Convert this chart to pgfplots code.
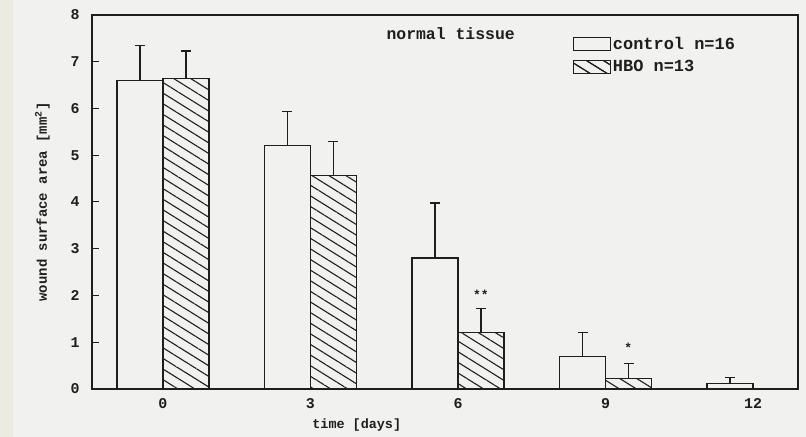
\documentclass[border=0pt]{standalone}
\usepackage{pgfplots}
\pgfplotsset{compat=1.18}
\usetikzlibrary{patterns.meta}
\usepackage{fontspec}
\setmainfont{Liberation Mono}
\definecolor{bg}{HTML}{F1F1F0}
\definecolor{strip}{HTML}{ECEBE2}
\definecolor{ink}{HTML}{1E1E1E}
\pgfplotstableread{
x    c     ce    h     he
0    6.60  0.75  6.65  0.58
1    5.20  0.74  4.57  0.72
2    2.80  1.18  1.20  0.53
3    0.70  0.50  0.22  0.33
4    0.12  0.13  nan   nan
}\data
\begin{document}
\begin{tikzpicture}[x=1bp,y=1bp]
\fill[bg] (0,0) rectangle (806,437);
\fill[strip] (0,0) rectangle (13,437);
\begin{axis}[
  at={(92bp,48bp)}, anchor=south west,
  scale only axis, width=706bp, height=374bp,
  ybar, bar width=46bp,
  xmin=-0.481, xmax=4.305, ymin=0, ymax=8,
  ytick={0,...,8}, xtick={0,1,2,3,4}, xticklabels={0,3,6,9,12},
  tick align=inside, ytick pos=left, xtick pos=bottom,
  major tick length=7bp,
  x tick style={draw=none},
  y tick style={line width=1pt, ink},
  axis line style={line width=1.3pt, ink},
  tick label style={font=\fontsize{15}{15}\selectfont\bfseries, ink},
  /pgf/number format/assume math mode=true,
  xticklabel style={yshift=-6bp},
  yticklabel style={xshift=-9bp},
  xlabel={time [days]},
  xlabel style={font=\fontsize{13.5}{13.5}\selectfont\bfseries, ink, at={(axis description cs:0.375,0)}, anchor=north, yshift=-26bp},
  ylabel={wound surface area [mm$^{\mathbf{2}}$]},
  ylabel style={font=\fontsize{14}{14}\selectfont\bfseries, ink, yshift=14bp},
  legend style={draw=none, fill=none, at={(rel axis cs:0.681,0.946)}, anchor=north west,
    font=\fontsize{17}{17}\selectfont\bfseries, text=ink, row sep=5bp, inner sep=0pt,
    legend cell align=left},
  error bars/y dir=plus, error bars/y explicit,
  error bars/error mark options={rotate=90, mark size=5bp, line width=1.2pt, ink},
  error bars/error bar style={line width=1.2pt, ink},
]
\addplot[draw=ink, line width=1.2pt, fill=bg, bar shift=-23bp,
  legend image code/.code={\draw[draw=ink, line width=1pt, fill=bg] (0bp,-6.5bp) rectangle (37bp,6.5bp);}]
  table[x=x, y=c, y error=ce] {\data};
\addlegendentry{control n=16}
\addplot[draw=ink, line width=1.2pt, fill=bg, bar shift=23bp,
  postaction={pattern={Lines[angle=-32, distance=9bp, line width=1.1pt]}, pattern color=ink},
  legend image code/.code={\draw[draw=ink, line width=1pt, fill=bg, postaction={pattern={Lines[angle=-32, distance=9bp, line width=1.1pt]}, pattern color=ink}] (0bp,-6.5bp) rectangle (37bp,6.5bp);}]
  table[x=x, y=h, y error=he] {\data};
\addlegendentry{HBO n=13}
\node[font=\fontsize{13}{13}\selectfont\bfseries, ink] at (axis cs:2.155,2.02) {**};
\node[font=\fontsize{13}{13}\selectfont\bfseries, ink] at (axis cs:3.155,0.88) {*};
\node[font=\fontsize{16.5}{16.5}\selectfont\bfseries, ink] at (rel axis cs:0.508,0.95) {normal tissue};
\end{axis}
\end{tikzpicture}
\end{document}
